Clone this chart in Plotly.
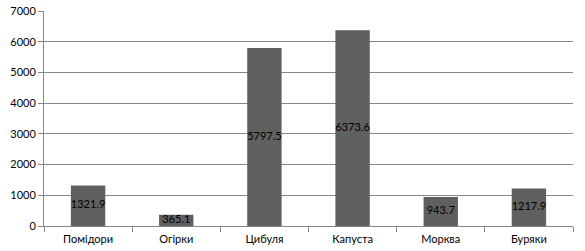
import plotly.graph_objects as go

categories = ["Помідори", "Огірки", "Цибуля", "Капуста", "Морква", "Буряки"]
values = [1321.9, 365.1, 5797.5, 6373.6, 943.7, 1217.9]
labels = ["1321.9", "365.1", "5797.5", "6373.6", "943.7", "1217.9"]

fig = go.Figure()
fig.add_trace(go.Bar(x=categories, y=values, marker=dict(color="#606060", line=dict(width=0)),
                     width=0.39, hoverinfo="skip"))
fig.add_trace(go.Scatter(x=categories, y=[v / 2 for v in values], mode="text", text=labels,
                         textfont=dict(family="Lato", size=11, color="#000000"), hoverinfo="skip"))

fig.update_layout(
    width=585, height=251,
    margin=dict(l=44, r=12, t=11, b=25),
    paper_bgcolor="white", plot_bgcolor="white",
    showlegend=False,
    font=dict(family="Lato", size=11, color="#000000"),
)
fig.update_xaxes(showline=True, linecolor="#888888", linewidth=1, ticks="outside",
                 tickson="boundaries", ticklen=5, tickcolor="#888888", showgrid=False,
                 tickfont=dict(size=11), automargin=False, ticklabelstandoff=3)
fig.update_yaxes(range=[0, 7000], dtick=1000, showgrid=True, gridcolor="#888888", gridwidth=1,
                 showline=True, linecolor="#888888", linewidth=1,
                 ticks="outside", ticklen=5, tickcolor="#888888",
                 zeroline=True, zerolinecolor="#888888", zerolinewidth=1, tickfont=dict(size=11),
                 automargin=False)

fig.write_html("out.html")
